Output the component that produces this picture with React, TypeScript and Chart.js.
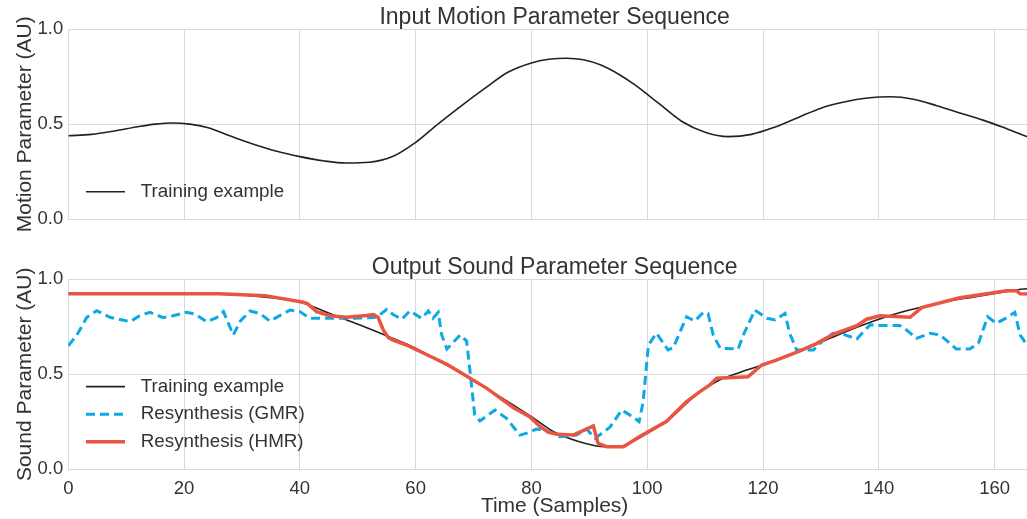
import { useEffect, useRef } from "react";
import { Chart, registerables } from "chart.js";

Chart.register(...registerables);

const FONT = '"Liberation Sans", Arial, Helvetica, sans-serif';
const TEXT = "#333333";
const GRID = "#d9d9d9";

// Axis ticks
const xTicks = [0, 20, 40, 60, 80, 100, 120, 140, 160];
const yTicks = [0, 0.5, 1.0];

// Top panel: input motion parameter (training example)
const motionX = [0, 4, 8, 12, 15, 18, 21, 24, 28, 32, 36, 40, 44, 48, 52, 56, 60, 64, 68, 72, 76, 80, 83, 86, 89, 92, 95, 98, 102, 106, 110, 114, 118, 122, 126, 130, 134, 138, 142, 146, 150, 154, 158, 162, 166, 168];
const motionY = [0.44, 0.447, 0.465, 0.487, 0.501, 0.507, 0.501, 0.483, 0.438, 0.395, 0.358, 0.33, 0.308, 0.296, 0.3, 0.33, 0.405, 0.505, 0.6, 0.69, 0.775, 0.823, 0.842, 0.848, 0.84, 0.812, 0.765, 0.705, 0.61, 0.515, 0.458, 0.435, 0.447, 0.485, 0.535, 0.585, 0.617, 0.638, 0.645, 0.632, 0.598, 0.56, 0.522, 0.478, 0.432, 0.415];

// Bottom panel: training example (sound parameter)
const trainX = [0, 10, 20, 28, 32, 36, 40, 44, 48, 52, 56, 60, 64, 68, 72, 76, 80, 84, 88, 92, 94, 96, 100, 104, 108, 112, 116, 120, 124, 128, 132, 136, 140, 144, 148, 152, 156, 160, 164, 168];
const trainY = [0.925, 0.925, 0.925, 0.92, 0.913, 0.9, 0.88, 0.835, 0.787, 0.74, 0.69, 0.637, 0.57, 0.505, 0.43, 0.355, 0.277, 0.195, 0.148, 0.12, 0.118, 0.125, 0.19, 0.268, 0.38, 0.462, 0.51, 0.55, 0.595, 0.643, 0.695, 0.745, 0.79, 0.828, 0.858, 0.885, 0.905, 0.925, 0.945, 0.958];

// Resynthesis (GMR)
const gmrX = [0, 1.5, 3.2, 4.9, 7.2, 10.7, 12.4, 14.1, 16.4, 18.1, 20.4, 21.9, 23.9, 25.6, 26.8, 28.5, 29.7, 31.4, 33.1, 34.8, 36.6, 38.3, 40, 41.7, 43.5, 49.2, 53.3, 55, 56.1, 57.6, 59, 61, 62.2, 63, 63.9, 64.5, 65.4, 67.7, 68.8, 69.4, 70.2, 71.1, 73.7, 75.7, 78, 79.2, 80.9, 82.9, 84.9, 87.8, 89.5, 91, 93.6, 95.6, 97, 98.6, 99.3, 100.2, 101.6, 103.6, 104.5, 106.8, 108.2, 109.7, 110.5, 111.4, 112.6, 115.7, 116.6, 118.6, 120.7, 122.1, 123.8, 124.6, 125.8, 128.7, 130.4, 132.1, 133.9, 136.2, 137.9, 138.5, 140.2, 143.6, 144.8, 146.5, 148.8, 150.6, 153.4, 155.7, 157.2, 158.8, 160.3, 162.1, 163.5, 164.4, 165.6, 168];
const gmrY = [0.65, 0.707, 0.8, 0.835, 0.8, 0.777, 0.81, 0.826, 0.798, 0.808, 0.826, 0.817, 0.777, 0.798, 0.83, 0.707, 0.78, 0.833, 0.82, 0.78, 0.81, 0.838, 0.83, 0.795, 0.795, 0.795, 0.8, 0.842, 0.815, 0.79, 0.833, 0.795, 0.833, 0.795, 0.826, 0.707, 0.633, 0.707, 0.675, 0.514, 0.286, 0.254, 0.312, 0.268, 0.18, 0.19, 0.212, 0.2, 0.172, 0.18, 0.212, 0.163, 0.223, 0.312, 0.286, 0.251, 0.356, 0.654, 0.716, 0.628, 0.64, 0.803, 0.78, 0.826, 0.82, 0.707, 0.637, 0.633, 0.707, 0.838, 0.795, 0.786, 0.82, 0.716, 0.628, 0.628, 0.68, 0.716, 0.71, 0.686, 0.742, 0.76, 0.757, 0.757, 0.733, 0.689, 0.716, 0.707, 0.633, 0.633, 0.663, 0.803, 0.768, 0.798, 0.826, 0.707, 0.654, 0.64];

// Resynthesis (HMR)
const hmrX = [0, 26, 34, 40.6, 41.3, 42.9, 45.2, 48.1, 51.5, 52.7, 53.5, 54.4, 55.3, 56.1, 58.4, 65.4, 69.4, 72.3, 76.9, 79.7, 81.5, 82.9, 84.4, 87.2, 89.2, 90.7, 91.5, 93, 95.9, 98.7, 103.3, 106.8, 109.1, 110.8, 112, 117.4, 119.8, 122.3, 126.4, 129.3, 132.1, 136.2, 137.9, 140.2, 145.4, 147.4, 154, 162.1, 163.8, 164.4, 168];
const hmrY = [0.924, 0.924, 0.914, 0.879, 0.872, 0.83, 0.808, 0.8, 0.81, 0.815, 0.8, 0.733, 0.693, 0.68, 0.654, 0.553, 0.479, 0.426, 0.324, 0.277, 0.225, 0.195, 0.184, 0.18, 0.207, 0.228, 0.137, 0.119, 0.119, 0.172, 0.251, 0.356, 0.409, 0.444, 0.479, 0.487, 0.549, 0.575, 0.623, 0.663, 0.71, 0.756, 0.79, 0.808, 0.8, 0.851, 0.903, 0.94, 0.94, 0.924, 0.922];

const pts = (xs: number[], ys: number[]) => xs.map((x, i) => ({ x, y: ys[i] }));

const insideLegend = {
  id: "insideLegend",
  afterDraw(chart: any, _args: any, opts: any) {
    const { ctx, chartArea } = chart;
    const order: number[] = opts.order || [];
    const n = order.length;
    ctx.save();
    order.forEach((k, i) => {
      const ds = chart.data.datasets[k];
      const y = chartArea.bottom - 27.5 - (n - 1 - i) * 27.6;
      ctx.strokeStyle = ds.borderColor;
      ctx.lineWidth = ds.borderWidth;
      ctx.setLineDash(ds.borderDash || []);
      ctx.lineCap = "butt";
      ctx.beginPath();
      ctx.moveTo(chartArea.left + 17.7, y);
      ctx.lineTo(chartArea.left + 56.7, y);
      ctx.stroke();
      ctx.setLineDash([]);
      ctx.fillStyle = TEXT;
      ctx.font = `18.8px ${FONT}`;
      ctx.textBaseline = "middle";
      ctx.textAlign = "left";
      ctx.fillText(ds.label, chartArea.left + 72.5, y);
    });
    ctx.restore();
  },
};

function makeOptions(title: string, yTitle: string, showX: boolean, xAxisHeight: number, order: number[]): any {
  return {
    responsive: false,
    animation: false,
    devicePixelRatio: 1,
    layout: { padding: { left: 0, right: 4.1, top: 0, bottom: 0 } },
    elements: { point: { radius: 0 } },
    plugins: {
      legend: { display: false },
      tooltip: { enabled: false },
      title: {
        display: true,
        fullSize: false,
        text: title,
        color: TEXT,
        font: { family: FONT, size: 23, weight: "normal", lineHeight: 0.98 },
        padding: { top: 6.76, bottom: 0 },
      },
      insideLegend: { order },
    },
    scales: {
      x: {
        type: "linear",
        min: 0,
        max: 168,
        afterBuildTicks: (s: any) => {
          s.ticks = xTicks.map((v) => ({ value: v }));
        },
        afterFit: (s: any) => {
          s.height = xAxisHeight;
        },
        ticks: {
          display: showX,
          color: TEXT,
          font: { family: FONT, size: 18.5 },
          padding: 8.5,
          maxRotation: 0,
          autoSkip: false,
        },
        grid: { color: GRID, lineWidth: 1, drawTicks: false },
        border: { display: false },
        title: {
          display: showX,
          text: "Time (Samples)",
          color: TEXT,
          font: { family: FONT, size: 21 },
          padding: { top: 0, bottom: 0 },
        },
      },
      y: {
        type: "linear",
        min: 0,
        max: 1,
        afterBuildTicks: (s: any) => {
          s.ticks = yTicks.map((v) => ({ value: v }));
        },
        afterFit: (s: any) => {
          s.width = 68.3;
        },
        ticks: {
          color: TEXT,
          font: { family: FONT, size: 18.5 },
          padding: 5,
          callback: (v: any) => Number(v).toFixed(1),
        },
        grid: { color: GRID, lineWidth: 1, drawTicks: false },
        border: { display: false },
        title: {
          display: true,
          text: yTitle,
          color: TEXT,
          font: { family: FONT, size: 21 },
          padding: { top: 12.5, bottom: 0 },
        },
      },
    },
  };
}

export default function App() {
  const topRef = useRef<HTMLCanvasElement>(null);
  const botRef = useRef<HTMLCanvasElement>(null);

  useEffect(() => {
    const top = new Chart(topRef.current as HTMLCanvasElement, {
      type: "line",
      data: {
        datasets: [
          {
            label: "Training example",
            data: pts(motionX, motionY),
            borderColor: "#222222",
            borderWidth: 1.6,
            cubicInterpolationMode: "monotone",
            fill: false,
          },
        ],
      },
      options: makeOptions("Input Motion Parameter Sequence", "Motion Parameter (AU)", false, 30.7, [0]),
      plugins: [insideLegend],
    } as any);

    const bottom = new Chart(botRef.current as HTMLCanvasElement, {
      type: "line",
      data: {
        datasets: [
          {
            label: "Training example",
            data: pts(trainX, trainY),
            borderColor: "#222222",
            borderWidth: 1.6,
            cubicInterpolationMode: "monotone",
            fill: false,
            order: 3,
          },
          {
            label: "Resynthesis (GMR)",
            data: pts(gmrX, gmrY),
            borderColor: "#0DA9E4",
            borderWidth: 3,
            borderDash: [9, 5],
            tension: 0,
            fill: false,
            order: 2,
          },
          {
            label: "Resynthesis (HMR)",
            data: pts(hmrX, hmrY),
            borderColor: "#EA5541",
            borderWidth: 3.5,
            tension: 0,
            fill: false,
            order: 1,
          },
        ],
      },
      options: makeOptions("Output Sound Parameter Sequence", "Sound Parameter (AU)", true, 49.7, [0, 1, 2]),
      plugins: [insideLegend],
    } as any);

    return () => {
      top.destroy();
      bottom.destroy();
    };
  }, []);

  return (
    <div
      style={{
        position: "fixed",
        left: 0,
        top: 0,
        width: 1027,
        height: 519,
        overflow: "hidden",
        background: "#ffffff",
      }}
    >
      <canvas
        ref={topRef}
        width={1045}
        height={250}
        style={{ position: "absolute", left: 0, top: 0, width: 1045, height: 250 }}
      />
      <canvas
        ref={botRef}
        width={1045}
        height={269}
        style={{ position: "absolute", left: 0, top: 250, width: 1045, height: 269 }}
      />
    </div>
  );
}
